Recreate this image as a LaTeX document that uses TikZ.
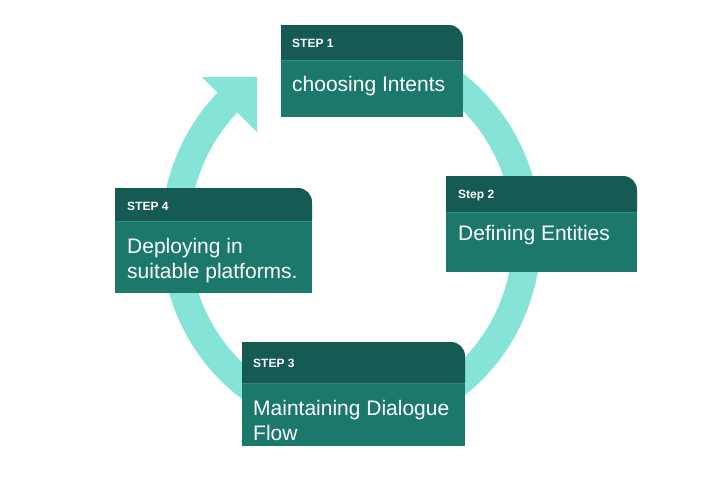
\documentclass[tikz,border=0pt]{standalone}
\usepackage{fontspec}
\setmainfont{Liberation Sans}
\definecolor{hdr}{HTML}{165B53}
\definecolor{bdy}{HTML}{1D786C}
\definecolor{ringc}{HTML}{85E3D8}
\definecolor{sepc}{HTML}{2F8C80}
\newcommand\mystepshape[5]{%
  \fill[bdy] (#1,#3) rectangle (#4,#5);
  \fill[hdr] (#1,#3) -- (#1,#2) -- ({#4-14},#2) arc[start angle=-90,end angle=0,radius=14] -- (#4,#3) -- cycle;
  \draw[sepc, line width=1pt] (#1,#3) -- (#4,#3);
}
\begin{document}
\begin{tikzpicture}[x=1pt,y=-1pt,
  hdrtxt/.style={anchor=base west, inner sep=0pt, text=white, font=\fontsize{12}{14}\selectfont\bfseries},
  bodytxt/.style={anchor=base west, inner sep=0pt, text=white, font=\fontsize{21}{25}\selectfont},
  ringline/.style={draw=ringc, line width=28pt}]
\useasboundingbox (0,0) rectangle (708,499);
\fill[white] (0,0) rectangle (708,499);
% ring
\coordinate (rstart) at (351,49);
\draw[ringline] (rstart) arc[start angle=-90, end angle=225.8, x radius=176, y radius=186] coordinate (rend);
\coordinate (ah1) at (202,77);
\coordinate (ah2) at (257,77);
\coordinate (ah3) at (257,132);
\fill[ringc] (ah1) -- (ah2) -- (ah3) -- cycle;
% boxes
\mystepshape{281}{25}{60}{463}{117}
\mystepshape{446}{176}{212}{637}{272}
\mystepshape{242}{342}{383}{465}{446}
\mystepshape{115}{188}{221}{312}{293}
% texts
\node[hdrtxt] (h1) at (292,47) {STEP 1};
\node[bodytxt] (t1) at (292,91) {choosing Intents};
\node[hdrtxt] (h2) at (458,198) {Step 2};
\node[bodytxt] (t2) at (458,240) {Defining Entities};
\node[hdrtxt] (h3) at (253,367) {STEP 3};
\node[bodytxt] (t3a) at (253,415) {Maintaining Dialogue};
\node[bodytxt] (t3b) at (253,440) {Flow};
\node[hdrtxt] (h4) at (127,210) {STEP 4};
\node[bodytxt] (t4a) at (127,253) {Deploying in};
\node[bodytxt] (t4b) at (127,278) {suitable platforms.};
\end{tikzpicture}
\end{document}
